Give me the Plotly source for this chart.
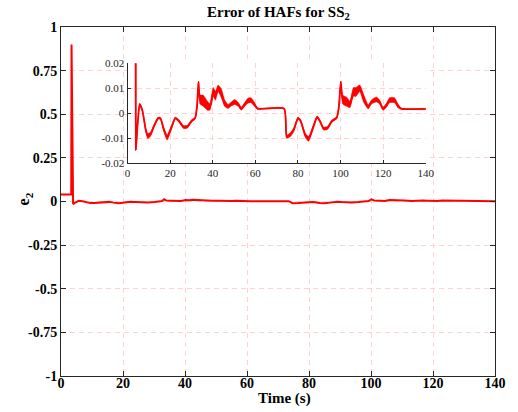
import plotly.graph_objects as go

# Error signal e2 for SS2 (time in s)
t = [0, 3.3, 3.4, 3.9, 4.6, 5.7, 7.0, 8.5, 9.5, 10.8, 12.5, 14.4, 15.5, 17.0, 18.6,
     20.5, 22.4, 24.0, 26.3, 28.0, 30.2, 31.7, 32.6, 33.3, 34.0, 35.5, 37.5, 38.7,
     40.2, 41.3, 42.5, 44.0, 45.6, 47.2, 48.7, 50.3, 52.0, 53.4, 55.0, 56.5, 58.0,
     59.6, 61.1, 73.5, 74.7, 76.6, 78.1, 80.0, 81.2, 83.5, 85.0, 87.4, 89.0, 90.5,
     92.0, 93.8, 95.9, 98.2, 99.2, 100.1, 101.0, 103.0, 104.4, 106.0, 107.2, 109.0,
     110.8, 113.0, 114.5, 116.8, 118.3, 119.9, 121.4, 123.0, 125.3, 126.9, 128.4, 140.0]
e2 = [0.04, 0.04, 0.90, -0.0147, -0.006, 0.0036, 0.0010, -0.0065, -0.0092, -0.0085,
      -0.0050, -0.0020, -0.0022, -0.0065, -0.0098, -0.0060, -0.0020, -0.0030, -0.0056,
      -0.0055, -0.0030, -0.0020, 0.0025, 0.0125, 0.0055, 0.0050, 0.0030, 0.0025,
      0.0085, 0.0070, 0.0100, 0.0080, 0.0040, 0.0027, 0.0037, 0.0045, 0.0035, 0.0018,
      0.0035, 0.0050, 0.0052, 0.0035, 0.0018, 0.0018, -0.0095, -0.0085, -0.0065,
      -0.0020, -0.0030, -0.0090, -0.0103, -0.0050, -0.0015, -0.0035, -0.0062, -0.0060,
      -0.0032, -0.0018, 0.0025, 0.0125, 0.0055, 0.0045, 0.0035, 0.0085, 0.0085, 0.0100,
      0.0060, 0.0025, 0.0045, 0.0055, 0.0045, 0.0018, 0.0030, 0.0052, 0.0052, 0.0030,
      0.0018, 0.0017]
# half-amplitude of the fast ripple around e2
ripple = [0, 0, 0, 0, 0.0004, 0.0003, 0.0004, 0.0008, 0.001, 0.0008, 0.0006, 0.0004,
          0.0004, 0.0008, 0.001, 0.0008, 0.0004, 0.0005, 0.0006, 0.0006, 0.0005, 0.0004,
          0.0008, 0.0004, 0.0018, 0.0022, 0.0018, 0.0013, 0.0018, 0.0018, 0.0013, 0.0018,
          0.0013, 0.0008, 0.0008, 0.001, 0.0008, 0.0006, 0.0008, 0.001, 0.001, 0.0008,
          0.0002, 0.0002, 0.0006, 0.0008, 0.0007, 0.0004, 0.0005, 0.0008, 0.001, 0.0007,
          0.0004, 0.0005, 0.0006, 0.0006, 0.0005, 0.0004, 0.0008, 0.0004, 0.0018, 0.0018,
          0.0013, 0.0018, 0.0018, 0.0013, 0.0016, 0.0008, 0.0008, 0.001, 0.0008, 0.0006,
          0.0008, 0.001, 0.001, 0.0008, 0.0002, 0.0002]

x_ticks = [0, 20, 40, 60, 80, 100, 120, 140]
y_ticks = [-1, -0.75, -0.5, -0.25, 0, 0.25, 0.5, 0.75, 1]
y_tick_text = ["-1", "-0.75", "-0.5", "-0.25", "0", "0.25", "0.5", "0.75", "1"]
inset_y_ticks = [-0.02, -0.01, 0, 0.01, 0.02]
inset_y_text = ["-0.02", "-0.01", "0", "0.01", "0.02"]

RED = "#ff0000"
AX = "#262626"
GRID = "#ffd2d2"
SERIF = "Liberation Serif, Times New Roman, serif"

upper = [v + r for v, r in zip(e2, ripple)]
lower = [v - r for v, r in zip(e2, ripple)]

fig = go.Figure()
# main view
fig.add_trace(go.Scatter(x=t, y=e2, mode="lines", line=dict(color=RED, width=2),
                         xaxis="x", yaxis="y", showlegend=False, hoverinfo="skip"))
# zoomed inset: ripple band plus centre line
fig.add_trace(go.Scatter(x=t, y=upper, mode="lines",
                         line=dict(color=RED, width=0.5, shape="spline", smoothing=0.5),
                         xaxis="x2", yaxis="y2", showlegend=False, hoverinfo="skip"))
fig.add_trace(go.Scatter(x=t, y=lower, mode="lines",
                         line=dict(color=RED, width=0.5, shape="spline", smoothing=0.5),
                         fill="tonexty", fillcolor=RED,
                         xaxis="x2", yaxis="y2", showlegend=False, hoverinfo="skip"))
fig.add_trace(go.Scatter(x=t, y=e2, mode="lines",
                         line=dict(color=RED, width=1.8, shape="spline", smoothing=0.5),
                         xaxis="x2", yaxis="y2", showlegend=False, hoverinfo="skip"))

W, H = 518, 412
L, R, T, B = 61, 18, 27, 36
pw, ph = W - L - R, H - T - B

def fx(px):
    return (px - L) / pw

def fy(py):
    return (H - B - py) / ph

main_axis = dict(showline=True, linecolor=AX, linewidth=1, mirror="ticks",
                 ticks="inside", ticklen=5, tickcolor=AX, tickwidth=1,
                 showgrid=True, gridcolor=GRID, gridwidth=1, griddash="5px,4px",
                 zeroline=False,
                 tickfont=dict(family=SERIF, size=14, color="#000000", weight="bold"))

fig.update_layout(
    width=W, height=H,
    margin=dict(l=L, r=R, t=T, b=B),
    paper_bgcolor="white", plot_bgcolor="white",
    xaxis=dict(main_axis, range=[0, 140], tickvals=x_ticks, domain=[0, 1],
               ticklabelstandoff=-6),
    yaxis=dict(main_axis, range=[-1, 1], tickvals=y_ticks, ticktext=y_tick_text,
               domain=[0, 1]),
    xaxis2=dict(anchor="y2", domain=[fx(128.3), fx(430)], range=[0, 140],
                tickvals=x_ticks, showline=True, linecolor=AX, linewidth=1,
                mirror=False, ticks="inside", ticklen=3, tickcolor=AX,
                showgrid=True, gridcolor=GRID, gridwidth=1, griddash="5px,4px",
                zeroline=False, tickfont=dict(family=SERIF, size=11, color=AX)),
    yaxis2=dict(anchor="x2", domain=[fy(163), fy(63.3)], range=[-0.02, 0.02],
                tickvals=inset_y_ticks, ticktext=inset_y_text, showline=True,
                linecolor=AX, linewidth=1, mirror=False, ticks="inside", ticklen=3,
                tickcolor=AX, showgrid=True, gridcolor=GRID, gridwidth=1,
                griddash="5px,4px", zeroline=False,
                tickfont=dict(family=SERIF, size=11, color=AX)),
    annotations=[
        dict(text="<b>Error of HAFs for SS<sub>2</sub></b>", xref="paper", yref="paper",
             x=fx(280.5), y=fy(13), xanchor="center", yanchor="middle", showarrow=False,
             font=dict(family=SERIF, size=15, color="#000000")),
        dict(text="<b>Time (s)</b>", xref="paper", yref="paper",
             x=fx(287), y=fy(398), xanchor="center", yanchor="middle", showarrow=False,
             font=dict(family=SERIF, size=15, color="#000000")),
        dict(text="<b>e<sub>2</sub></b>", xref="paper", yref="paper",
             x=fx(24), y=fy(199), xanchor="center", yanchor="middle", showarrow=False,
             textangle=-90, font=dict(family=SERIF, size=16, color="#000000")),
    ],
)

fig.write_html("out.html")
